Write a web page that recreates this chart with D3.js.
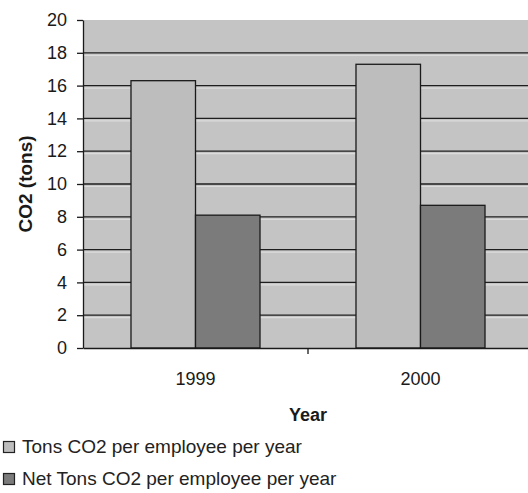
<!DOCTYPE html>
<html>
<head>
<meta charset="utf-8">
<script src="https://cdn.jsdelivr.net/npm/d3@7/dist/d3.min.js"></script>
<style>
  html, body { margin: 0; padding: 0; background: #fff; }
  svg { display: block; font-family: "Liberation Sans", Arial, sans-serif; }
</style>
</head>
<body>
<svg id="chart" width="528" height="493"></svg>
<script>
// Chart data
const years = ["1999", "2000"];
const series = ["Tons CO2 per employee per year", "Net Tons CO2 per employee per year"];
const tonsPerEmployee = [16.3, 17.3];
const netTonsPerEmployee = [8.1, 8.7];
const yTicks = [0, 2, 4, 6, 8, 10, 12, 14, 16, 18, 20];

const seriesValues = [tonsPerEmployee, netTonsPerEmployee];
const seriesFill = ["#bdbdbd", "#7b7b7b"];
const FONT = "'Liberation Sans', Arial, sans-serif";

const svg = d3.select("#chart");
const plot = { left: 83, top: 20, right: 533, bottom: 348 };

const x = d3.scaleBand().domain(years).range([plot.left, plot.right]).paddingInner(0).paddingOuter(0);
const inner = d3.scaleBand().domain(d3.range(series.length))
  .range([0, x.bandwidth()]).paddingOuter(0.744).paddingInner(0);
const y = d3.scaleLinear().domain([0, 20]).range([plot.bottom, plot.top]);

// Plot background
svg.append("rect")
  .attr("x", plot.left).attr("y", plot.top)
  .attr("width", plot.right - plot.left).attr("height", plot.bottom - plot.top)
  .attr("fill", "#c4c4c4");

// Gridlines with a pale highlight underneath
const grid = svg.append("g");
yTicks.filter(t => t > 0 && t < 20).forEach(t => {
  grid.append("line")
    .attr("x1", plot.left).attr("x2", plot.right)
    .attr("y1", y(t) + 2.5).attr("y2", y(t) + 2.5)
    .attr("stroke", "#dcdcdc").attr("stroke-width", 1.2);
  grid.append("line")
    .attr("x1", plot.left).attr("x2", plot.right)
    .attr("y1", y(t)).attr("y2", y(t))
    .attr("stroke", "#1e1e1e").attr("stroke-width", 1.3);
});

// Bars
const groups = svg.append("g").selectAll("g")
  .data(years).join("g")
  .attr("transform", d => `translate(${x(d)},0)`);

groups.selectAll("rect")
  .data((d, i) => seriesValues.map((vals, s) => ({ s, v: vals[i] })))
  .join("rect")
  .attr("x", d => inner(d.s))
  .attr("width", inner.bandwidth())
  .attr("y", d => y(d.v))
  .attr("height", d => y(0) - y(d.v))
  .attr("fill", d => seriesFill[d.s])
  .attr("stroke", "#1a1a1a")
  .attr("stroke-width", 1.3);

// Y axis
const yAxis = svg.append("g")
  .attr("transform", `translate(${plot.left},0)`)
  .call(d3.axisLeft(y).tickValues(yTicks).tickSize(6).tickPadding(10).tickSizeOuter(0));
yAxis.select(".domain").attr("stroke", "#1a1a1a").attr("stroke-width", 1.3);
yAxis.selectAll(".tick line").attr("stroke", "#1a1a1a").attr("stroke-width", 1.3);
yAxis.selectAll(".tick text")
  .attr("font-size", 18).attr("fill", "#1a1a1a").attr("font-family", FONT);

// X axis
const xAxis = svg.append("g")
  .attr("transform", `translate(0,${plot.bottom})`)
  .call(d3.axisBottom(x).tickSize(0).tickPadding(24).tickSizeOuter(0));
xAxis.select(".domain").attr("stroke", "#1a1a1a").attr("stroke-width", 1.3);
xAxis.selectAll(".tick text")
  .attr("font-size", 18).attr("fill", "#1a1a1a").attr("font-family", FONT);
// category divider ticks
xAxis.append("g").selectAll("line")
  .data(years.slice(1))
  .join("line")
  .attr("x1", d => x(d)).attr("x2", d => x(d))
  .attr("y1", 0).attr("y2", 6)
  .attr("stroke", "#1a1a1a").attr("stroke-width", 1.3);

// Axis titles
svg.append("text")
  .attr("transform", `translate(32,${(plot.top + plot.bottom) / 2}) rotate(-90)`)
  .attr("text-anchor", "middle")
  .attr("font-size", 19).attr("font-weight", "bold").attr("fill", "#1a1a1a")
  .text("CO2 (tons)");

svg.append("text")
  .attr("x", (plot.left + plot.right) / 2).attr("y", 421)
  .attr("text-anchor", "middle")
  .attr("font-size", 18).attr("font-weight", "bold").attr("fill", "#1a1a1a")
  .text("Year");

// Legend
const legend = svg.append("g").selectAll("g")
  .data(series).join("g")
  .attr("transform", (d, i) => `translate(3,${441 + i * 32})`);
legend.append("rect")
  .attr("x", 0.5).attr("y", 0.5).attr("width", 11).attr("height", 11)
  .attr("fill", (d, i) => seriesFill[i])
  .attr("stroke", "#222").attr("stroke-width", 1.2);
legend.append("text")
  .attr("x", 19).attr("y", 12)
  .attr("font-size", 19).attr("fill", "#222")
  .text(d => d);
</script>
</body>
</html>
